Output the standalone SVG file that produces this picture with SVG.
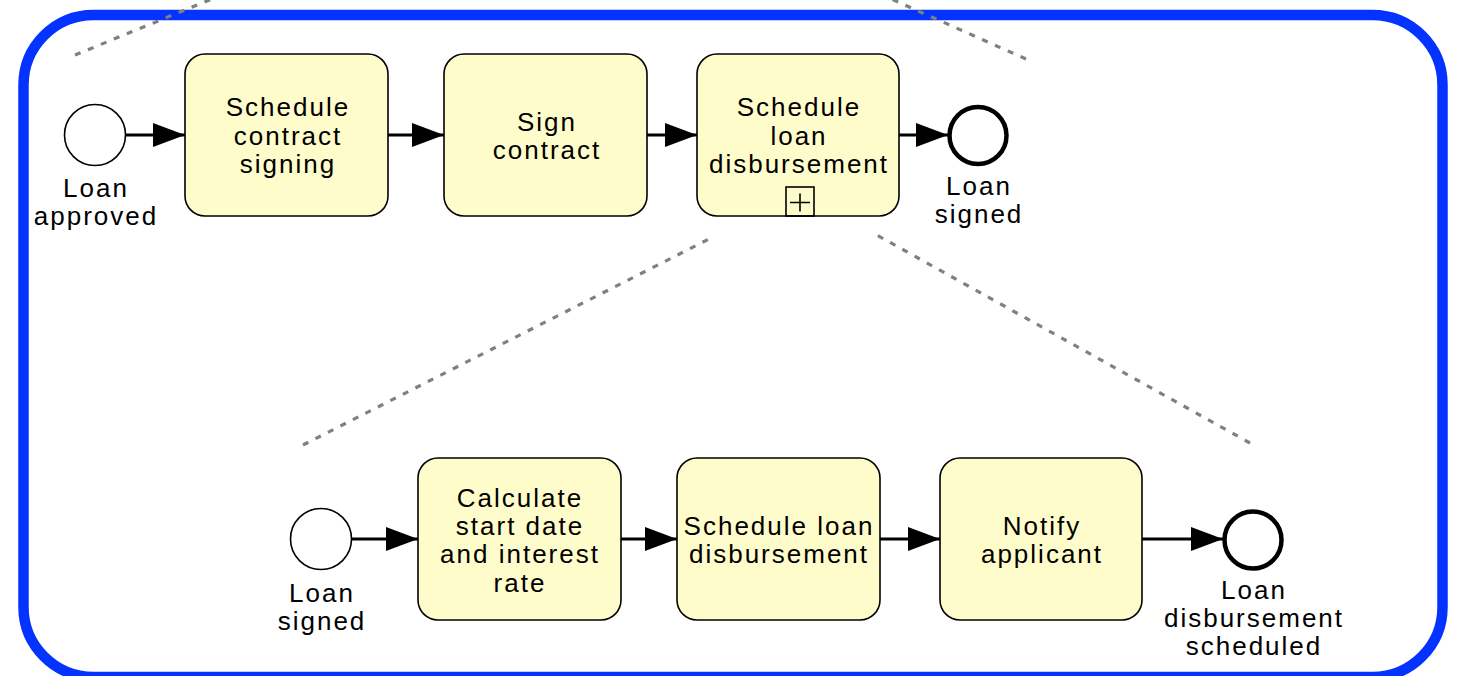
<svg xmlns="http://www.w3.org/2000/svg" width="1462" height="676" viewBox="0 0 1462 676">
  <style>
    .task { fill: #fffccb; stroke: #000; stroke-width: 1.6; }
    .start { fill: #fff; stroke: #000; stroke-width: 1.6; }
    .end { fill: #fff; stroke: #000; stroke-width: 4.5; }
    .flow { fill: none; stroke: #000; stroke-width: 3; marker-end: url(#arrow); }
    .dot { fill: none; stroke: #808080; stroke-width: 3.2; stroke-dasharray: 6 8; }
    text { font-family: "Liberation Sans", Arial, Helvetica, sans-serif; font-size: 26px; letter-spacing: 2px; fill: #000; text-anchor: middle; }
  </style>
  <defs>
    <marker id="arrow" viewBox="0 0 32 24" markerWidth="32" markerHeight="24" refX="32" refY="12" orient="auto" markerUnits="userSpaceOnUse">
      <path d="M0,0 L32,12 L0,24 Z" fill="#000"/>
    </marker>
  </defs>

  <rect id="frame" x="23.5" y="15" width="1419" height="662" rx="70" ry="70" fill="#fff" stroke="#0433ff" stroke-width="10.5"/>

  <g id="zoom-lines">
    <line class="dot" x1="75" y1="55" x2="224" y2="-6"/>
    <line class="dot" x1="1026" y1="59" x2="880" y2="-6"/>
    <line class="dot" x1="303" y1="445" x2="711" y2="238"/>
    <line class="dot" x1="1250" y1="443" x2="875" y2="234"/>
  </g>

  <g id="connectors">
    <line class="flow" x1="125" y1="135" x2="185" y2="135"/>
    <line class="flow" x1="388" y1="135" x2="444" y2="135"/>
    <line class="flow" x1="647" y1="135" x2="697" y2="135"/>
    <line class="flow" x1="899" y1="135" x2="948" y2="135"/>
    <line class="flow" x1="352" y1="539" x2="418" y2="539"/>
    <line class="flow" x1="621" y1="539" x2="677" y2="539"/>
    <line class="flow" x1="880" y1="539" x2="940" y2="539"/>
    <line class="flow" x1="1142" y1="539" x2="1223" y2="539"/>
  </g>

  <g id="start-loan-approved">
    <circle class="start" cx="95" cy="135" r="30.5"/>
    <text x="96" y="197">Loan</text>
    <text x="96" y="225">approved</text>
  </g>

  <g id="task-schedule-contract-signing">
    <rect class="task" x="185" y="54" width="203" height="162" rx="20" ry="20"/>
    <text x="288" y="116">Schedule</text>
    <text x="288" y="145">contract</text>
    <text x="288" y="173">signing</text>
  </g>

  <g id="task-sign-contract">
    <rect class="task" x="444" y="54" width="203" height="162" rx="20" ry="20"/>
    <text x="547" y="131">Sign</text>
    <text x="547" y="159">contract</text>
  </g>

  <g id="subprocess-schedule-loan-disbursement">
    <rect class="task" x="697" y="54" width="202" height="162" rx="20" ry="20"/>
    <text x="799" y="116">Schedule</text>
    <text x="799" y="145">loan</text>
    <text x="799" y="173">disbursement</text>
    <rect x="786" y="187" width="28" height="29" fill="none" stroke="#000" stroke-width="1.6"/>
    <path d="M790,202.5 H810 M800,193.5 V211.5" fill="none" stroke="#000" stroke-width="1.6"/>
  </g>

  <g id="end-loan-signed">
    <circle class="end" cx="978" cy="135.5" r="28.5"/>
    <text x="979" y="195">Loan</text>
    <text x="979" y="223">signed</text>
  </g>

  <g id="start-loan-signed">
    <circle class="start" cx="321" cy="539" r="30.5"/>
    <text x="322" y="602">Loan</text>
    <text x="322" y="630">signed</text>
  </g>

  <g id="task-calculate">
    <rect class="task" x="418" y="458" width="203" height="162" rx="20" ry="20"/>
    <text x="520" y="507">Calculate</text>
    <text x="520" y="535">start date</text>
    <text x="520" y="563">and interest</text>
    <text x="520" y="592">rate</text>
  </g>

  <g id="task-schedule-loan-disbursement">
    <rect class="task" x="677" y="458" width="203" height="162" rx="20" ry="20"/>
    <text x="779" y="535">Schedule loan</text>
    <text x="779" y="563">disbursement</text>
  </g>

  <g id="task-notify-applicant">
    <rect class="task" x="940" y="458" width="202" height="162" rx="20" ry="20"/>
    <text x="1042" y="535">Notify</text>
    <text x="1042" y="563">applicant</text>
  </g>

  <g id="end-loan-disbursement-scheduled">
    <circle class="end" cx="1253" cy="540" r="28.5"/>
    <text x="1254" y="599">Loan</text>
    <text x="1254" y="627">disbursement</text>
    <text x="1254" y="655">scheduled</text>
  </g>
</svg>
